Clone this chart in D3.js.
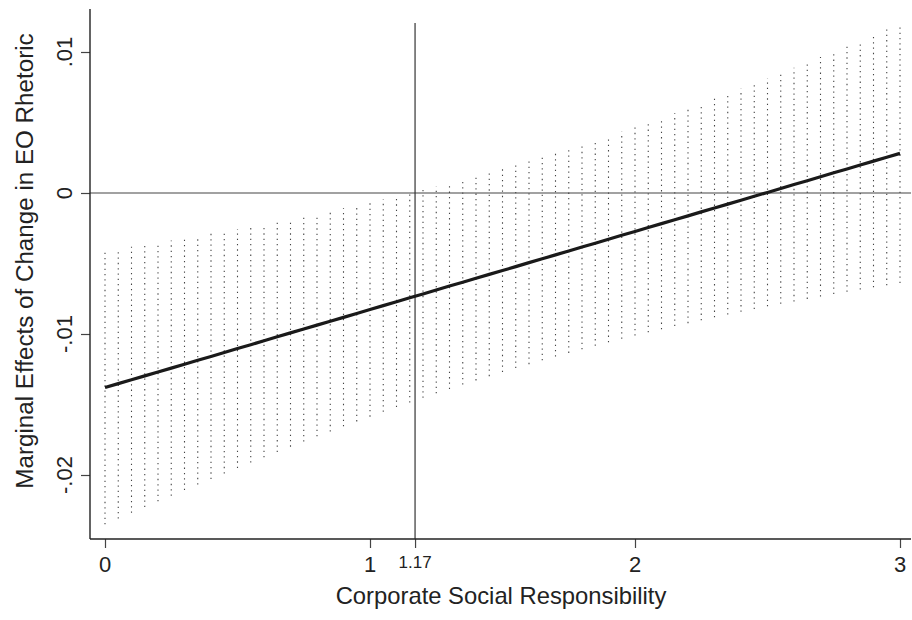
<!DOCTYPE html>
<html>
<head>
<meta charset="utf-8">
<script src="https://cdn.jsdelivr.net/npm/d3@7"></script>
<style>
  body { margin: 0; background: #fff; }
  svg { display: block; font-family: "Liberation Sans", Arial, sans-serif; }
</style>
</head>
<body>
<script>
// values, x step 0.05
var csr = [0,0.05,0.1,0.15,0.2,0.25,0.3,0.35,0.4,0.45,0.5,0.55,0.6,0.65,0.7,0.75,0.8,0.85,0.9,0.95,
  1,1.05,1.1,1.15,1.2,1.25,1.3,1.35,1.4,1.45,1.5,1.55,1.6,1.65,1.7,1.75,1.8,1.85,1.9,1.95,
  2,2.05,2.1,2.15,2.2,2.25,2.3,2.35,2.4,2.45,2.5,2.55,2.6,2.65,2.7,2.75,2.8,2.85,2.9,2.95,3];
var effect = [-0.01380,-0.01352,-0.01325,-0.01297,-0.01269,-0.01242,-0.01214,-0.01186,-0.01159,-0.01131,
  -0.01103,-0.01076,-0.01048,-0.01020,-0.00992,-0.00965,-0.00937,-0.00909,-0.00882,-0.00854,
  -0.00826,-0.00799,-0.00771,-0.00743,-0.00716,-0.00688,-0.00660,-0.00633,-0.00605,-0.00577,
  -0.00550,-0.00522,-0.00494,-0.00466,-0.00439,-0.00411,-0.00383,-0.00356,-0.00328,-0.00300,
  -0.00273,-0.00245,-0.00217,-0.00190,-0.00162,-0.00134,-0.00107,-0.00079,-0.00051,-0.00023,
  0.00004,0.00032,0.00060,0.00087,0.00115,0.00143,0.00170,0.00198,0.00226,0.00253,0.00281];
var upper = [-0.00410,-0.00396,-0.00381,-0.00367,-0.00352,-0.00337,-0.00321,-0.00305,-0.00289,-0.00273,
  -0.00256,-0.00239,-0.00222,-0.00204,-0.00185,-0.00167,-0.00148,-0.00128,-0.00108,-0.00088,
  -0.00067,-0.00045,-0.00023,-0.00001,0.00022,0.00046,0.00070,0.00094,0.00119,0.00145,
  0.00171,0.00198,0.00226,0.00254,0.00282,0.00312,0.00341,0.00372,0.00402,0.00434,
  0.00466,0.00498,0.00531,0.00565,0.00599,0.00633,0.00668,0.00704,0.00740,0.00776,
  0.00813,0.00850,0.00888,0.00926,0.00964,0.01003,0.01042,0.01081,0.01121,0.01161,0.01201];
var lower = [-0.02350,-0.02309,-0.02268,-0.02227,-0.02187,-0.02147,-0.02107,-0.02067,-0.02028,-0.01989,
  -0.01950,-0.01912,-0.01874,-0.01837,-0.01799,-0.01763,-0.01726,-0.01691,-0.01655,-0.01620,
  -0.01586,-0.01552,-0.01518,-0.01486,-0.01453,-0.01421,-0.01390,-0.01359,-0.01329,-0.01299,
  -0.01270,-0.01242,-0.01214,-0.01187,-0.01160,-0.01134,-0.01108,-0.01083,-0.01058,-0.01034,
  -0.01011,-0.00988,-0.00966,-0.00944,-0.00923,-0.00902,-0.00881,-0.00862,-0.00842,-0.00823,
  -0.00804,-0.00786,-0.00769,-0.00751,-0.00734,-0.00717,-0.00701,-0.00685,-0.00669,-0.00654,-0.00639];

var xTicks = [0, 1, 2, 3];
var yTicks = [-0.02, -0.01, 0, 0.01];
var yTickLabels = ["-.02", "-.01", "0", ".01"];
var meanCSR = 1.17;

var width = 912, height = 620;

var svg = d3.select("body").append("svg")
  .attr("width", width)
  .attr("height", height);

var x = d3.scaleLinear().domain([0, 3]).range([105, 900]);
var y = d3.scaleLinear().domain([-0.02, 0.01]).range([475, 52]);

var axisLeft = 90, axisBottom = 539, axisTop = 9, axisRight = 911;
var ink = "#222";

// confidence band as dotted spikes
svg.append("g")
  .selectAll("line")
  .data(csr)
  .enter()
  .append("line")
  .attr("x1", function(d) { return x(d); })
  .attr("x2", function(d) { return x(d); })
  .attr("y1", function(d, i) { return y(lower[i]); })
  .attr("y2", function(d, i) { return y(upper[i]); })
  .attr("stroke", "#444")
  .attr("stroke-width", 1.1)
  .attr("stroke-dasharray", "1.3,4");

// reference lines
svg.append("line")
  .attr("x1", axisLeft).attr("x2", axisRight)
  .attr("y1", y(0)).attr("y2", y(0))
  .attr("stroke", "#444").attr("stroke-width", 1.2);

svg.append("line")
  .attr("x1", x(meanCSR)).attr("x2", x(meanCSR))
  .attr("y1", 23).attr("y2", axisBottom)
  .attr("stroke", "#333").attr("stroke-width", 1.2);

// marginal effect line
var line = d3.line()
  .x(function(d) { return x(d); })
  .y(function(d, i) { return y(effect[i]); });

svg.append("path")
  .datum(csr)
  .attr("d", line)
  .attr("fill", "none")
  .attr("stroke", "#1a1a1a")
  .attr("stroke-width", 3.2);

// y axis
var yAxis = svg.append("g")
  .attr("transform", "translate(" + axisLeft + ",0)")
  .call(d3.axisLeft(y).tickValues(yTicks).tickSize(9).tickFormat(""));
yAxis.select(".domain").remove();
yAxis.selectAll(".tick line").attr("stroke", "#444").attr("stroke-width", 1.2);
yAxis.append("line")
  .attr("x1", 0).attr("x2", 0)
  .attr("y1", axisTop).attr("y2", axisBottom)
  .attr("stroke", ink).attr("stroke-width", 1.4);

svg.append("g")
  .selectAll("text")
  .data(yTicks)
  .enter()
  .append("text")
  .attr("transform", function(d) { return "translate(72," + y(d) + ") rotate(-90)"; })
  .attr("text-anchor", "middle")
  .attr("font-size", 22)
  .attr("fill", ink)
  .text(function(d, i) { return yTickLabels[i]; });

// x axis
var xAxis = svg.append("g")
  .attr("transform", "translate(0," + axisBottom + ")")
  .call(d3.axisBottom(x).tickValues(xTicks.concat([meanCSR])).tickSize(9).tickFormat(""));
xAxis.select(".domain").remove();
xAxis.selectAll(".tick line").attr("stroke", "#444").attr("stroke-width", 1.2);
xAxis.append("line")
  .attr("x1", axisLeft).attr("x2", axisRight)
  .attr("y1", 0).attr("y2", 0)
  .attr("stroke", ink).attr("stroke-width", 1.4);

svg.append("g")
  .selectAll("text")
  .data(xTicks)
  .enter()
  .append("text")
  .attr("x", function(d) { return x(d); })
  .attr("y", 572)
  .attr("text-anchor", "middle")
  .attr("font-size", 22)
  .attr("fill", ink)
  .text(function(d) { return d; });

svg.append("text")
  .attr("x", x(meanCSR))
  .attr("y", 568)
  .attr("text-anchor", "middle")
  .attr("font-size", 17)
  .attr("fill", ink)
  .text(meanCSR);

// axis titles
svg.append("text")
  .attr("x", 501)
  .attr("y", 604)
  .attr("text-anchor", "middle")
  .attr("font-size", 23.8)
  .attr("fill", ink)
  .text("Corporate Social Responsibility");

svg.append("text")
  .attr("transform", "translate(33,261) rotate(-90)")
  .attr("text-anchor", "middle")
  .attr("font-size", 24.2)
  .attr("fill", ink)
  .text("Marginal Effects of Change in EO Rhetoric");
</script>
</body>
</html>
